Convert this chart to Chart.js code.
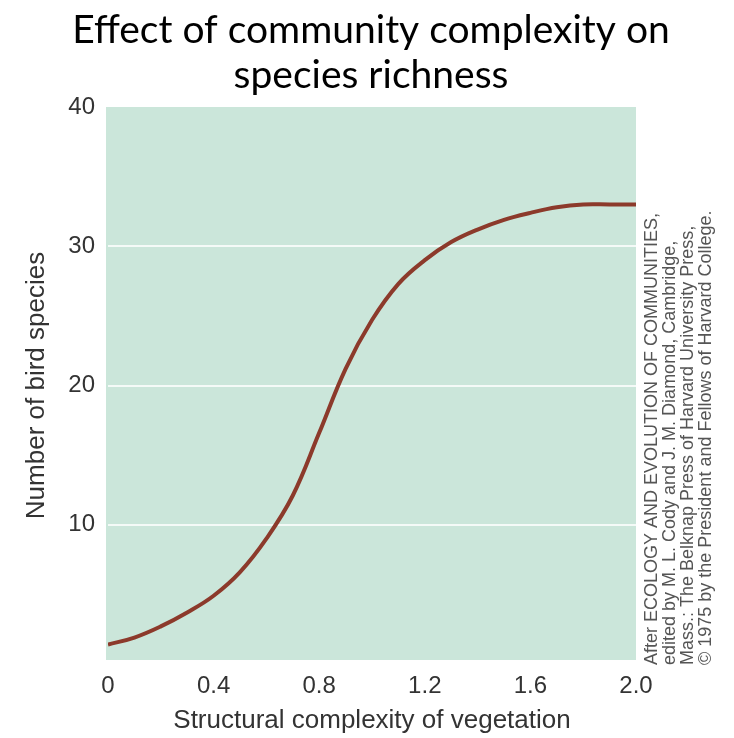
<!DOCTYPE html>
<html>
<head>
<meta charset="utf-8">
<script src="https://cdn.jsdelivr.net/npm/chart.js@4.4.1/dist/chart.umd.min.js"></script>
<style>
  html, body { margin: 0; padding: 0; background: #fff; }
  #wrap { width: 734px; height: 738px; }
</style>
</head>
<body>
<div id="wrap"><canvas id="myChart" width="734" height="738"></canvas></div>
<script>
// values
var complexity = [0, 0.1, 0.2, 0.3, 0.4, 0.5, 0.6, 0.7, 0.8, 0.9, 1.0,
                  1.1, 1.2, 1.3, 1.4, 1.5, 1.6, 1.7, 1.8, 1.9, 2.0];
var birdSpecies = [1.4, 1.9, 2.7, 3.7, 4.9, 6.6, 9.0, 12.1, 16.6, 21.2, 24.7,
                   27.3, 29.0, 30.3, 31.2, 31.9, 32.4, 32.8, 33.0, 33.0, 33.0];
var xTicks = [0, 0.4, 0.8, 1.2, 1.6, 2.0];
var xTickLabels = ['0', '0.4', '0.8', '1.2', '1.6', '2.0'];
var yTicks = [10, 20, 30, 40];

var titleLines = ['Effect of community complexity on', 'species richness'];
var creditLines = [
  'After ECOLOGY AND EVOLUTION OF COMMUNITIES,',
  'edited by M. L. Cody and J. M. Diamond, Cambridge,',
  'Mass.: The Belknap Press of Harvard University Press,',
  '\u00A9 1975 by the President and Fellows of Harvard College.'
];

var points = [];
for (let i = 0; i < complexity.length; i++) {
  points.push({ x: complexity[i], y: birdSpecies[i] });
}

// green panel behind the plot, title and the side credit
var decor = {
  id: 'decor',
  beforeDraw: function(chart) {
    var ctx = chart.ctx;
    var a = chart.chartArea;
    ctx.save();
    ctx.fillStyle = '#cbe6da';
    ctx.fillRect(a.left - 2, a.top, a.right - a.left + 2, a.bottom - a.top - 4);
    ctx.restore();
  },
  afterDraw: function(chart) {
    var ctx = chart.ctx;
    ctx.save();
    ctx.fillStyle = '#000';
    ctx.font = '39px Lato';
    ctx.textAlign = 'center';
    ctx.textBaseline = 'alphabetic';
    ctx.fillText(titleLines[0], 371, 43);
    ctx.fillText(titleLines[1], 371, 88);
    ctx.restore();

    ctx.save();
    ctx.fillStyle = '#555';
    ctx.font = '18px "Liberation Sans"';
    ctx.textAlign = 'left';
    ctx.textBaseline = 'middle';
    var xs = [652, 670, 688, 706];
    for (let i = 0; i < creditLines.length; i++) {
      ctx.save();
      ctx.translate(xs[i], 665);
      ctx.rotate(-Math.PI / 2);
      ctx.fillText(creditLines[i], 0, 0);
      ctx.restore();
    }
    ctx.restore();
  }
};

new Chart(document.getElementById('myChart').getContext('2d'), {
  type: 'line',
  data: {
    datasets: [{
      label: 'Bird species',
      data: points,
      borderColor: '#8c3a2b',
      borderWidth: 4,
      pointRadius: 0,
      tension: 0.4,
      fill: false
    }]
  },
  options: {
    responsive: false,
    animation: false,
    layout: { padding: { top: 107, right: 98, left: 0, bottom: 0 } },
    plugins: {
      legend: { display: false },
      tooltip: { enabled: false }
    },
    scales: {
      x: {
        type: 'linear',
        min: 0,
        max: 2.0,
        afterBuildTicks: function(scale) {
          scale.ticks = xTicks.map(v => ({ value: v }));
        },
        afterFit: function(scale) { scale.height = 74; },
        grid: { display: false, drawTicks: false },
        border: { display: false },
        ticks: {
          padding: 8,
          color: '#333',
          font: { family: 'Liberation Sans', size: 24 },
          callback: function(value, index) { return xTickLabels[index]; }
        },
        title: {
          display: true,
          text: 'Structural complexity of vegetation',
          color: '#333',
          font: { family: 'Liberation Sans', size: 26 },
          padding: { top: 0, bottom: 2 }
        }
      },
      y: {
        min: 0,
        max: 40,
        afterBuildTicks: function(scale) {
          scale.ticks = yTicks.map(v => ({ value: v }));
        },
        afterFit: function(scale) { scale.width = 108; },
        grid: {
          drawTicks: false,
          lineWidth: 2,
          color: function(c) {
            return (c.tick && c.tick.value < 40) ? '#f4faf7' : 'rgba(0,0,0,0)';
          }
        },
        border: { display: false },
        ticks: {
          padding: 13,
          color: '#333',
          font: { family: 'Liberation Sans', size: 24 }
        },
        title: {
          display: true,
          text: 'Number of bird species',
          color: '#333',
          font: { family: 'Liberation Sans', size: 26 },
          padding: { top: 21, bottom: 0 }
        }
      }
    }
  },
  plugins: [decor]
});
</script>
</body>
</html>
